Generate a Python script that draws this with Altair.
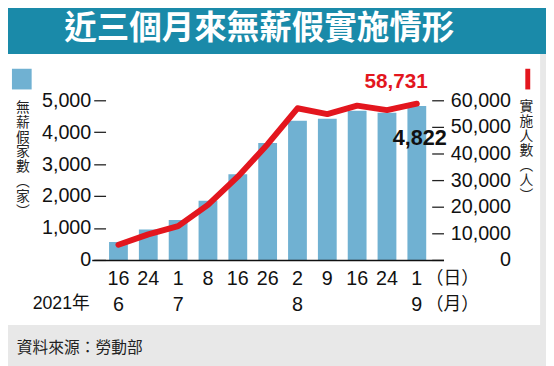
import altair as alt
import pandas as pd

# ---- data ----
dates = ["6/16", "6/24", "7/1", "7/8", "7/16", "7/26", "8/2", "8/9", "8/16", "8/24", "9/1"]
companies = [560, 950, 1250, 1850, 2680, 3660, 4360, 4420, 4670, 4610, 4822]
workers = [5700, 9600, 12700, 20700, 31300, 43500, 57000, 54800, 58000, 56300, 58731]
months = ["6", "", "7", "", "", "", "8", "", "", "", "9"]
left_ticks = [0, 1000, 2000, 3000, 4000, 5000]
right_ticks = [0, 10000, 20000, 30000, 40000, 50000, 60000]

title_text = "近三個月來無薪假實施情形"
source_text = "資料來源：勞動部"
left_legend = ["無", "薪", "假", "家", "數", "︵", "家", "︶"]
right_legend = ["實", "施", "人", "數", "︵", "人", "︶"]

BAR = "#70b1d2"
RED = "#e3161e"
TEAL = "#1a8aa9"
FONT = "Liberation Sans, Noto Sans CJK TC"
CJK = "Noto Sans CJK TC"

df = pd.DataFrame({"date": dates, "companies": companies, "workers": workers, "month": months})
last = df.tail(1)
one = pd.DataFrame({"k": [0]})

W, H = 357, 162

x_enc = alt.X(
    "date:N", sort=dates, title=None,
    scale=alt.Scale(paddingInner=0.37, paddingOuter=0.58),
    axis=alt.Axis(
        labelExpr="split(datum.value, '/')[1]", labelAngle=0,
        labelFontSize=20, labelFont=FONT, labelColor="#111",
        labelBaseline="middle", labelPadding=19,
        ticks=False, tickSize=0, domainColor="#111", domainWidth=1.5,
        grid=False, zindex=2,
    ),
)

yl = alt.Y(
    "companies:Q", title=None,
    scale=alt.Scale(domain=[0, 5000], nice=False),
    axis=alt.Axis(
        orient="left", values=left_ticks, format=",d", offset=-14,
        tickSize=12, tickColor="#222", tickWidth=1.3, labelPadding=3,
        labelFontSize=20, labelFont=FONT, labelColor="#111",
        domain=False, grid=False, zindex=1,
    ),
)
yr = alt.Y(
    "workers:Q", title=None,
    scale=alt.Scale(domain=[0, 60000], nice=False),
    axis=alt.Axis(
        orient="right", values=right_ticks, format=",d", offset=-12,
        tickSize=12, tickColor="#222", tickWidth=1.3, labelPadding=68,
        labelAlign="right",
        labelFontSize=20, labelFont=FONT, labelColor="#111",
        domain=False, grid=False, zindex=1,
    ),
)

bars = alt.Chart(df).mark_bar(color=BAR).encode(x=x_enc, y=yl)
bar_lbl = alt.Chart(last).mark_text(
    fontSize=22, fontWeight="bold", font=FONT, color="#111", dx=3, dy=33, baseline="middle"
).encode(x=x_enc, y=yl, text=alt.Text("companies:Q", format=",d"))

line = alt.Chart(df).mark_line(
    color=RED, strokeWidth=6, strokeCap="round", strokeJoin="round"
).encode(x=x_enc, y=yr)
line_lbl = alt.Chart(last).mark_text(
    fontSize=21, fontWeight="bold", font=FONT, color=RED, dx=-21, dy=-22, baseline="middle"
).encode(x=x_enc, y=yr, text=alt.Text("workers:Q", format=",d"))

left_layer = alt.layer(bars, bar_lbl)
right_layer = alt.layer(line, line_lbl)


def rect(x, x2, y, y2, color):
    return alt.Chart(one).mark_rect(color=color).encode(
        x=alt.value(x), x2=alt.value(x2), y=alt.value(y), y2=alt.value(y2)
    )


def label(text, x, y, size, color="#111", align="center", weight="normal", font=FONT, baseline="middle", lh=None):
    kw = dict(text=text, fontSize=size, color=color, align=align, fontWeight=weight,
              font=font, baseline=baseline)
    if lh is not None:
        kw["lineHeight"] = lh
    return alt.Chart(one).mark_text(**kw).encode(x=alt.value(x), y=alt.value(y))


panel = rect(-89, 455, -47, 228, "white")
band = rect(-93, 461, -99, -47, TEAL)
title = label(title_text, 170, -72, 33, color="white", weight="bold", font=CJK)
source = label(source_text, -76, 251, 16, color="#222", align="left", font=CJK)
sq = rect(-81, -61, -32, -11, BAR)
redbar = rect(440, 445, -32, -11, RED)
lv = label(left_legend, -70, 1, 14, color="#222", font=CJK, baseline="top", lh=15)
rv = label(right_legend, 441, 0, 14, color="#222", font=CJK, baseline="top", lh=15)
year = label("2021年", -31, 207, 18)
day_unit = label("（日）", 366, 181, 18, font=CJK)
mon_unit = label("（月）", 366, 208, 18, font=CJK)

month_lbl = alt.Chart(df).mark_text(
    fontSize=20, font=FONT, color="#111", baseline="middle"
).encode(x=x_enc, y=alt.value(208), text="month:N")

chart = alt.layer(
    panel, band, title, source, sq, redbar, lv, rv, year, day_unit, mon_unit,
    left_layer, right_layer, month_lbl,
).resolve_scale(y="independent").properties(
    width=W, height=H,
    autosize=alt.AutoSizeParams(type="none"),
    padding={"left": 85, "top": 91, "right": 104, "bottom": 105},
    background="#e8e8e8",
).configure_view(stroke=None)

chart.save("out.html", embed_options={"renderer": "svg", "actions": False})
